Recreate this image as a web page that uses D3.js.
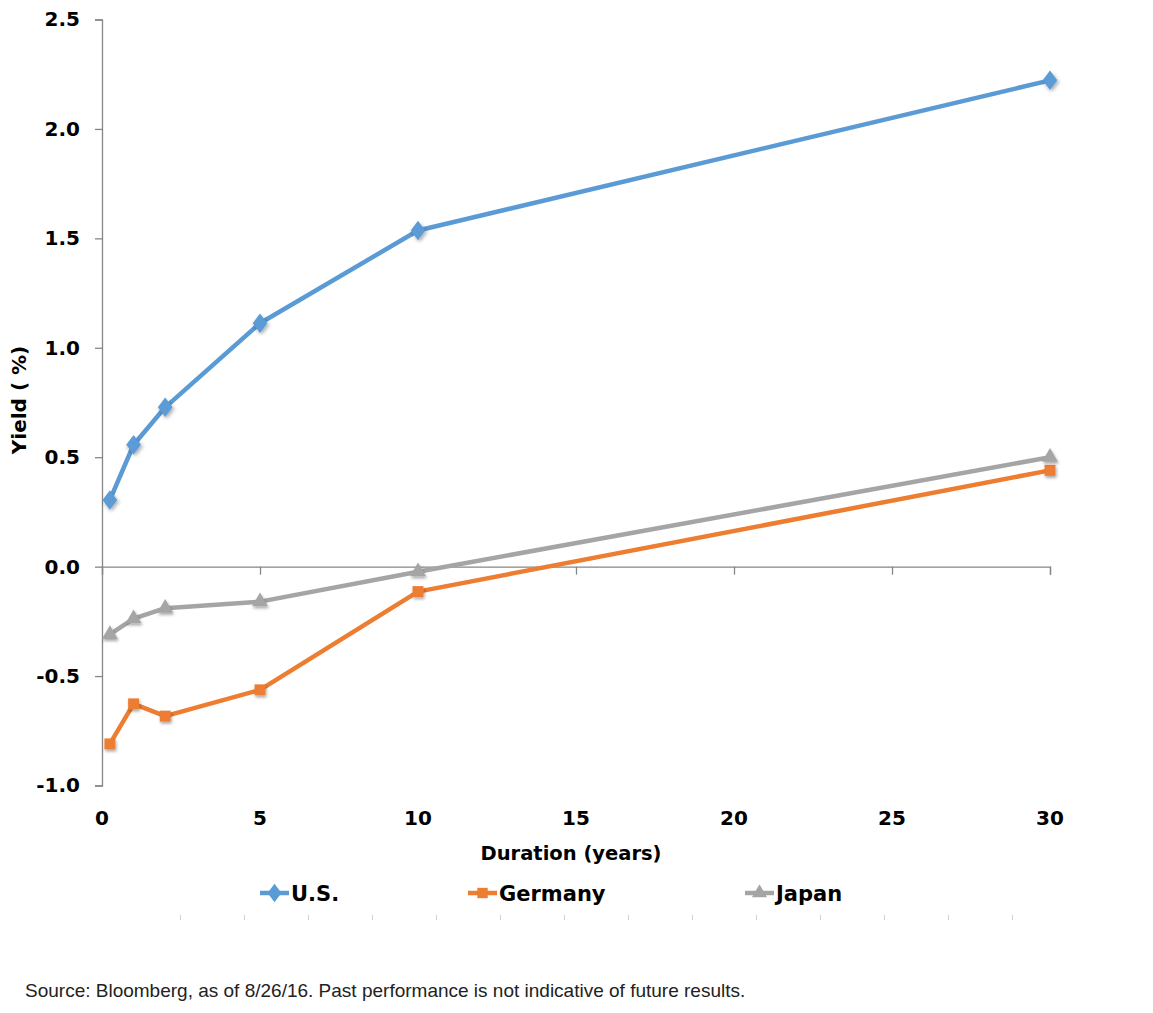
<!DOCTYPE html>
<html><head><meta charset="utf-8">
<script src="https://cdn.jsdelivr.net/npm/d3@7"></script>
<style>body{margin:0;background:#fff}</style>
</head><body><svg id="c" width="1153" height="1013"></svg>
<script>
const durations = [0.25, 1, 2, 5, 10, 30];
const usYield = [0.305, 0.557, 0.728, 1.112, 1.536, 2.222];
const germanyYield = [-0.81, -0.627, -0.683, -0.563, -0.114, 0.44];
const japanYield = [-0.31, -0.238, -0.19, -0.16, -0.023, 0.50];
const seriesNames = ["U.S.", "Germany", "Japan"];
const seriesColors = ["#5B9BD5", "#ED7D31", "#A5A5A5"];
const xTicks = [0, 5, 10, 15, 20, 25, 30];
const yTicks = [-1.0, -0.5, 0.0, 0.5, 1.0, 1.5, 2.0, 2.5];

const svg = d3.select("#c");
const font = "'DejaVu Sans',sans-serif";
const x = d3.scaleLinear().domain([0, 30]).range([102, 1050]);
const y = d3.scaleLinear().domain([-1, 2.5]).range([785.5, 19.5]);

const defs = svg.append("defs");
const f = defs.append("filter").attr("id","sh").attr("x","-50%").attr("y","-50%").attr("width","200%").attr("height","200%");
f.append("feDropShadow").attr("dx",1).attr("dy",2).attr("stdDeviation",1.5).attr("flood-color","#000").attr("flood-opacity",0.35);

// Y axis
const yAxis = svg.append("g").attr("transform","translate(102,0)")
  .call(d3.axisLeft(y).tickValues(yTicks).tickSize(7).tickPadding(15).tickFormat(d3.format(".1f")));
yAxis.select(".domain").attr("stroke","#868686").attr("stroke-width",1.3);
yAxis.selectAll(".tick line").attr("stroke","#868686").attr("stroke-width",1.3);
yAxis.selectAll(".tick text").attr("font-family",font).attr("font-weight","bold").attr("font-size","20px").attr("fill","#000")
  .text(d => d < 0 ? "-" + Math.abs(d).toFixed(1) : d.toFixed(1));

// X axis at y = 0
const xAxis = svg.append("g").attr("transform",`translate(0,${y(0)})`)
  .call(d3.axisBottom(x).tickValues(xTicks).tickSize(8).tickSizeOuter(8).tickFormat(""));
xAxis.select(".domain").attr("stroke","#868686").attr("stroke-width",1.3);
xAxis.selectAll(".tick line").attr("stroke","#868686").attr("stroke-width",1.3);
// X tick labels at bottom
svg.append("g").selectAll("text").data(xTicks).join("text")
  .attr("x", d => x(d)).attr("y", 825).attr("text-anchor","middle")
  .attr("font-family",font).attr("font-weight","bold").attr("font-size","20px").text(d => d);

// Titles
svg.append("text").attr("x",571).attr("y",860).attr("text-anchor","middle")
  .attr("font-family",font).attr("font-weight","bold").attr("font-size","19.5px").text("Duration (years)");
svg.append("text").attr("transform","translate(26,400) rotate(-90)").attr("text-anchor","middle")
  .attr("font-family",font).attr("font-weight","bold").attr("font-size","20px").text("Yield ( %)");

const data = [usYield, germanyYield, japanYield];
const line = d3.line().x((d,i)=>x(durations[i])).y(d=>y(d));
const symbols = [d3.symbolDiamond, d3.symbolSquare, d3.symbolTriangle];
const symSizes = [110, 120, 110];

data.forEach((vals, si) => {
  const g = svg.append("g");
  g.append("path").attr("d", line(vals)).attr("fill","none").attr("stroke",seriesColors[si])
    .attr("stroke-width",4.5).attr("stroke-linejoin","round");
  g.selectAll("path.m").data(vals).join("path").attr("class","m")
    .attr("transform",(d,i)=>`translate(${x(durations[i])},${y(d)})${si===0?" scale(1.3,1)":""}`)
    .attr("d", d3.symbol().type(symbols[si]).size(symSizes[si]))
    .attr("fill",seriesColors[si]).attr("filter","url(#sh)");
});

// Legend
const legX = [260, 468, 745];
seriesNames.forEach((n, i) => {
  const g = svg.append("g").attr("transform",`translate(${legX[i]},893)`);
  g.append("line").attr("x1",0).attr("x2",29).attr("stroke",seriesColors[i]).attr("stroke-width",4.5);
  g.append("path").attr("transform",`translate(14.5,0)${i===0?" scale(1.3,1)":""}`).attr("d", d3.symbol().type(symbols[i]).size(symSizes[i]*0.9)).attr("fill",seriesColors[i]);
  g.append("text").attr("x",31).attr("y",8).attr("font-family",font).attr("font-weight","bold").attr("font-size","21px").text(n);
});

// faint tick marks under legend
const faint = d3.range(180, 1013, 64);
svg.append("g").selectAll("line").data(faint).join("line")
  .attr("x1",d=>d+0.5).attr("x2",d=>d+0.5).attr("y1",915).attr("y2",920).attr("stroke","#d0d0d0").attr("stroke-width",1);

svg.append("text").attr("x",25).attr("y",997).attr("font-family","'Liberation Sans',Arial,sans-serif")
  .attr("font-size","19px").attr("fill","#222").text("Source: Bloomberg, as of 8/26/16. Past performance is not indicative of future results.");
</script></body></html>
